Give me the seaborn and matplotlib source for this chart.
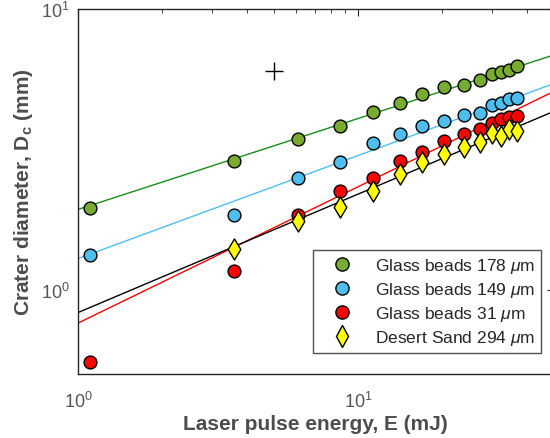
import numpy as np
import pandas as pd
import matplotlib
matplotlib.use("Agg")
import matplotlib.pyplot as plt
import seaborn as sns
from matplotlib.ticker import LogLocator, NullFormatter

# ---- data ----
energy = [1.1, 3.6, 6.1, 8.6, 11.3, 14.1, 16.9, 20.3, 24.0, 27.3, 30.1, 32.4, 34.7, 37.0]
d_gb178 = [1.95, 2.88, 3.45, 3.84, 4.30, 4.63, 4.97, 5.26, 5.35, 5.57, 5.85, 5.98, 6.06, 6.25]
d_gb149 = [1.33, 1.84, 2.50, 2.85, 3.32, 3.58, 3.84, 3.98, 4.20, 4.27, 4.53, 4.64, 4.77, 4.81]
d_gb31 = [0.55, 1.165, 1.85, 2.24, 2.50, 2.88, 3.08, 3.39, 3.58, 3.75, 3.91, 4.05, 4.13, 4.16]
energy_sand = [3.6, 6.1, 8.6, 11.3, 14.1, 16.9, 20.3, 24.0, 27.3, 30.1, 32.4, 34.7, 37.0]
d_sand = [1.40, 1.75, 1.97, 2.24, 2.58, 2.84, 3.05, 3.21, 3.36, 3.60, 3.53, 3.75, 3.68]

# power-law fit coefficients D = a * E^b
fit_a = [1.93, 1.29, 0.759, 0.828]
fit_b = [0.324, 0.367, 0.486, 0.422]

labels = ["Glass beads 178 $\\mu$m", "Glass beads 149 $\\mu$m",
          "Glass beads 31 $\\mu$m", "Desert Sand 294 $\\mu$m"]
marker_colors = ["#77ac30", "#4dbeee", "#ff0000", "#ffff00"]
line_colors = ["#1a8c1a", "#4dbeee", "#ff0000", "#000000"]
markers = ["o", "o", "o", "d"]

cross_x = [5.0]
cross_y = [6.0]

# ---- figure ----
sns.set_style("white")
plt.rcParams["font.family"] = ["Liberation Sans", "DejaVu Sans"]
plt.rcParams["mathtext.fontset"] = "custom"
plt.rcParams["mathtext.rm"] = "Liberation Sans"
plt.rcParams["mathtext.it"] = "Liberation Sans:italic"
plt.rcParams["mathtext.bf"] = "Liberation Sans:bold"

fig = plt.figure(figsize=(5.5, 4.39), dpi=100)
ax = fig.add_axes([78 / 550, 1 - 375 / 439, 475.7 / 550, 365 / 439])

xlim = (1, 50)
xs = np.logspace(np.log10(xlim[0]), np.log10(xlim[1]), 50)

series = [(energy, d_gb178), (energy, d_gb149), (energy, d_gb31), (energy_sand, d_sand)]

# fit lines
for a, b, lc in zip(fit_a, fit_b, line_colors):
    df_line = pd.DataFrame({"x": xs, "y": a * xs ** b})
    sns.lineplot(data=df_line, x="x", y="y", color=lc, lw=1.0, ax=ax, zorder=2)

# markers
handles = []
for (ex, dy), lab, mc, mk in zip(series, labels, marker_colors, markers):
    df = pd.DataFrame({"E": ex, "D": dy})
    size = 85 if mk == "o" else 115
    sns.scatterplot(data=df, x="E", y="D", marker=mk, s=size, color=mc,
                    edgecolor="black", linewidth=1.0, ax=ax, zorder=3)
    handles.append(plt.Line2D([], [], ls="none", marker=mk, markersize=9.5 if mk == "o" else 11,
                              markerfacecolor=mc, markeredgecolor="black", markeredgewidth=1.0))

sns.scatterplot(x=cross_x, y=cross_y, marker="+", s=160, color="black", linewidth=1.0, ax=ax, zorder=3)

ax.set_xscale("log")
ax.set_yscale("log")
ax.set_xlim(*xlim)
ax.set_ylim(0.5, 10)

grey = "#262626"
for sp in ax.spines.values():
    sp.set_color(grey)
    sp.set_linewidth(1.0)
ax.tick_params(which="both", direction="in", top=True, right=True, colors=grey,
               labelcolor="#555555", labelsize=13)
ax.tick_params(which="major", length=5)
ax.tick_params(which="minor", length=3)
ax.xaxis.set_minor_locator(LogLocator(base=10, subs=np.arange(2, 10)))
ax.yaxis.set_minor_locator(LogLocator(base=10, subs=np.arange(2, 10)))
ax.xaxis.set_minor_formatter(NullFormatter())
ax.yaxis.set_minor_formatter(NullFormatter())
ax.tick_params(axis="x", which="major", pad=12)
ax.tick_params(axis="y", which="major", pad=6)

ax.set_xlabel("Laser pulse energy, E (mJ)", fontsize=15, fontweight="bold", color="#4d4d4d", labelpad=2)
ax.set_ylabel("Crater diameter, D$_\\mathbf{c}$ (mm)", fontsize=15, fontweight="bold", color="#4d4d4d", labelpad=4)

leg = ax.legend(handles, labels, loc="lower right", bbox_to_anchor=(0.9727, 0.0567),
                borderaxespad=0, frameon=True, fancybox=False, fontsize=12.5,
                handletextpad=0.5, labelspacing=0.3, borderpad=0.35, handlelength=2.7)
leg.get_frame().set_edgecolor(grey)
leg.get_frame().set_linewidth(1.0)
for t in leg.get_texts():
    t.set_color("#262626")

fig.savefig("out.png", dpi=100)
